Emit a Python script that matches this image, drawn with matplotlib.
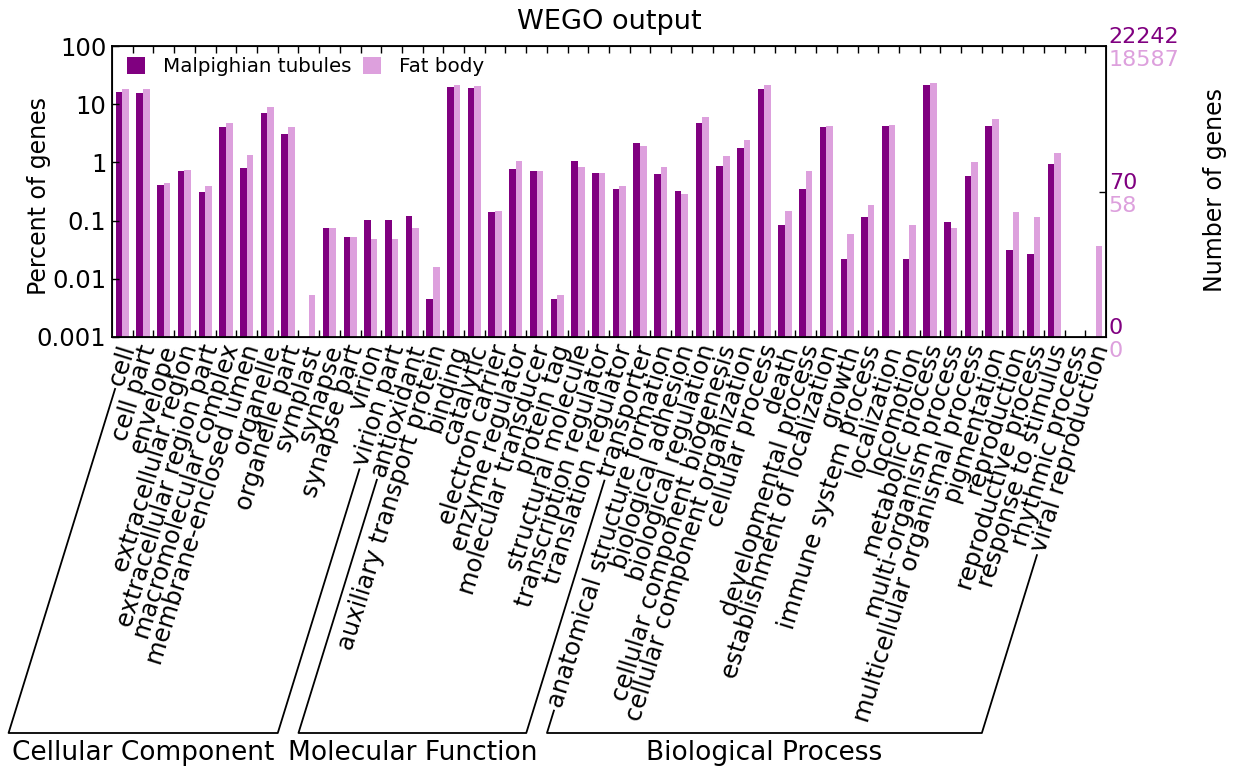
import numpy as np
import matplotlib
matplotlib.use("Agg")
import matplotlib.pyplot as plt
from matplotlib.lines import Line2D
from matplotlib.ticker import NullLocator

# GO terms, grouped by ontology (WEGO order)
cc_terms = ["cell", "cell part", "envelope", "extracellular region",
            "extracellular region part", "macromolecular complex",
            "membrane-enclosed lumen", "organelle", "organelle part",
            "symplast", "synapse", "synapse part", "virion", "virion part"]
mf_terms = ["antioxidant", "auxiliary transport protein", "binding",
            "catalytic", "electron carrier", "enzyme regulator",
            "molecular transducer", "protein tag", "structural molecule",
            "transcription regulator", "translation regulator", "transporter"]
bp_terms = ["anatomical structure formation", "biological adhesion",
            "biological regulation", "cellular component biogenesis",
            "cellular component organization", "cellular process", "death",
            "developmental process", "establishment of localization", "growth",
            "immune system process", "localization", "locomotion",
            "metabolic process", "multi-organism process",
            "multicellular organismal process", "pigmentation", "reproduction",
            "reproductive process", "response to stimulus", "rhythmic process",
            "viral reproduction"]
groups = ["Cellular Component", "Molecular Function", "Biological Process"]
terms = cc_terms + mf_terms + bp_terms

# percent of genes (0 = no bar)
malpighian = [16.4, 15.8, 0.41, 0.71, 0.31, 4.06, 0.79, 6.97, 3.11, 0, 0.0755,
              0.053, 0.102, 0.102,
              0.12, 0.00445, 20.0, 19.0, 0.139, 0.76, 0.71, 0.00445, 1.04, 0.65,
              0.344, 2.15,
              0.63, 0.327, 4.75, 0.88, 1.77, 18.5, 0.084, 0.344, 4.1, 0.0222,
              0.114, 4.2, 0.0222, 21.0, 0.094, 0.58, 4.2, 0.031, 0.0267, 0.94,
              0, 0]
fat_body = [18.2, 18.0, 0.45, 0.74, 0.39, 4.8, 1.32, 8.8, 4.1, 0.0053, 0.074,
            0.053, 0.048, 0.048,
            0.074, 0.016, 21.4, 20.5, 0.146, 1.04, 0.70, 0.0053, 0.845, 0.66,
            0.388, 1.89,
            0.82, 0.29, 6.1, 1.27, 2.43, 21.0, 0.148, 0.72, 4.27, 0.058, 0.185,
            4.4, 0.085, 23.4, 0.074, 1.03, 5.5, 0.142, 0.117, 1.45, 0, 0.0366]

total_genes = [22242, 18587]
ref_genes = [70, 58]

dark = "#800080"
light = "#dda0dd"

W, H = 1240, 771
fig = plt.figure(figsize=(W / 100, H / 100), dpi=100)
ax = fig.add_axes([112 / W, 1 - 337 / H, (1106 - 112) / W, (337 - 46) / H])

x = np.arange(len(terms)) + 0.5
mt = np.array(malpighian, dtype=float)
fb = np.array(fat_body, dtype=float)
mt[mt <= 0] = np.nan
fb[fb <= 0] = np.nan

ax.bar(x - 0.16, mt, width=0.32, color=dark, label="Malpighian tubules")
ax.bar(x + 0.16, fb, width=0.32, color=light, label="Fat body")

ax.set_yscale("log")
ax.set_ylim(0.001, 100)
ax.set_xlim(0, len(terms))
ax.set_yticks([0.001, 0.01, 0.1, 1, 10, 100])
ax.set_yticklabels(["0.001", "0.01", "0.1", "1", "10", "100"])
ax.yaxis.set_minor_locator(NullLocator())
ax.tick_params(axis="y", direction="in", length=5, width=1, labelsize=17.5, pad=4)

# boundary ticks top/bottom, term labels on (invisible) minor ticks,
# anchored a little right of the bar pair like WEGO does
ax.set_xticks(np.arange(1, len(terms)))
ax.tick_params(axis="x", which="major", direction="in", top=True, length=5,
               width=1, labelbottom=False)
ax.set_xticks(x + 0.3, terms, minor=True, rotation=72.8, ha="right",
              va="center", rotation_mode="anchor")
ax.tick_params(axis="x", which="minor", length=0, pad=6, labelsize=17.5)

for s in ax.spines.values():
    s.set_linewidth(1.3)

ax.set_ylabel("Percent of genes", fontsize=17)
ax.yaxis.set_label_coords(-0.061, 0.485)

ax.legend(loc="upper left", bbox_to_anchor=(0.015, 0.962), ncol=2,
          frameon=False, fontsize=14.3, handlelength=0.9, handleheight=0.9,
          handletextpad=0.9, columnspacing=0.6, borderaxespad=0, borderpad=0)

# right axis: number of genes
ax2 = ax.twinx()
ax2.set_yscale("log")
ax2.set_ylim(ax.get_ylim())
ref_pos = ref_genes[0] / total_genes[0] * 100
ax2.set_yticks([ref_pos])
ax2.set_yticklabels([""])
ax2.yaxis.set_minor_locator(NullLocator())
ax2.tick_params(axis="y", direction="in", length=5, width=1)
ax2.set_ylabel("Number of genes", fontsize=17)
ax2.yaxis.set_label_coords(1.098, 0.505)

levels = [(100, str(total_genes[0]), str(total_genes[1])),
          (ref_pos, str(ref_genes[0]), str(ref_genes[1])),
          (0.001, "0", "0")]
for ypos, t_dark, t_light in levels:
    ax.annotate(t_dark, xy=(1, ypos), xycoords=("axes fraction", "data"),
                xytext=(2, 6.5), textcoords="offset points", ha="left",
                va="center", color=dark, fontsize=16, annotation_clip=False)
    ax.annotate(t_light, xy=(1, ypos), xycoords=("axes fraction", "data"),
                xytext=(2, -10), textcoords="offset points", ha="left",
                va="center", color=light, fontsize=16, annotation_clip=False)

fig.text(609 / W, 1 - 22 / H, "WEGO output", ha="center", va="center",
         fontsize=19.5)

# group brackets drawn along the slant of the labels
fig.canvas.draw()
renderer = fig.canvas.get_renderer()
theta = np.deg2rad(72.8)
d = np.array([np.cos(theta), np.sin(theta)])
starts = []
for lab in ax.get_xticklabels(minor=True):
    w, h, dsc = renderer.get_text_width_height_descent(
        lab.get_text(), lab.get_fontproperties(), ismath=False)
    anchor = lab.get_transform().transform(lab.get_position())
    starts.append(anchor - w * d)

y_bottom = H - 733
n_cc, n_mf = len(cc_terms), len(mf_terms)
spans = [(0, n_cc - 1), (n_cc, n_cc + n_mf - 1), (n_cc + n_mf, len(terms) - 1)]
for (a, b), name in zip(spans, groups):
    p0 = starts[a] - 4 * d
    p1 = starts[b] - 4 * d
    b0 = p0 - (p0[1] - y_bottom) / d[1] * d
    b1 = p1 - (p1[1] - y_bottom) / d[1] * d
    xs = np.array([p0[0], b0[0], b1[0], p1[0]]) / W
    ys = np.array([p0[1], y_bottom, y_bottom, p1[1]]) / H
    fig.add_artist(Line2D(xs, ys, transform=fig.transFigure, color="black",
                          lw=1.3))
    fig.text((b0[0] + b1[0]) / 2 / W, (H - 753) / H, name, ha="center",
             va="center", fontsize=19)

fig.savefig("out.png", dpi=100)
